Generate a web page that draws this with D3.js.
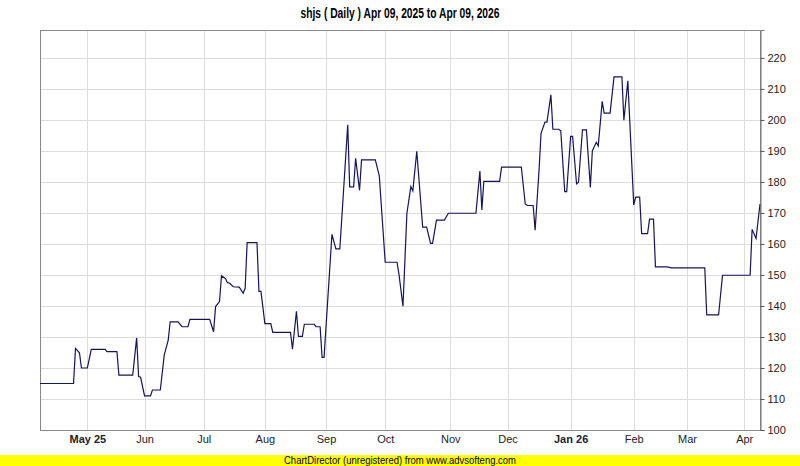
<!DOCTYPE html>
<html>
<head>
<meta charset="utf-8">
<script src="https://cdn.jsdelivr.net/npm/d3@7"></script>
<style>
  body { margin: 0; background: #fff; }
  text { font-family: "Liberation Sans", Arial, sans-serif; }
</style>
</head>
<body>
<svg id="chart" width="800" height="466"></svg>
<script>
// closing prices (turning points of the line)
var dates = [
  "2025-04-09","2025-04-26","2025-04-27","2025-04-29","2025-04-30","2025-05-03","2025-05-05","2025-05-12",
  "2025-05-13","2025-05-18","2025-05-19","2025-05-26","2025-05-28","2025-05-29","2025-05-30","2025-06-01",
  "2025-06-04","2025-06-05","2025-06-09","2025-06-11","2025-06-13","2025-06-14","2025-06-18","2025-06-20",
  "2025-06-23","2025-06-24","2025-07-04","2025-07-06","2025-07-07","2025-07-09","2025-07-10","2025-07-12",
  "2025-07-13","2025-07-14","2025-07-16","2025-07-19","2025-07-21","2025-07-22","2025-07-23","2025-07-28",
  "2025-07-29","2025-07-30","2025-08-01","2025-08-04","2025-08-05","2025-08-14","2025-08-15","2025-08-17",
  "2025-08-18","2025-08-20","2025-08-21","2025-08-26","2025-08-27","2025-08-29","2025-08-30","2025-08-31",
  "2025-09-04","2025-09-06","2025-09-08","2025-09-12","2025-09-13","2025-09-15","2025-09-16","2025-09-18",
  "2025-09-19","2025-09-26","2025-09-28","2025-10-01","2025-10-07","2025-10-08","2025-10-10","2025-10-12",
  "2025-10-14","2025-10-15","2025-10-17","2025-10-20","2025-10-22","2025-10-24","2025-10-25","2025-10-27",
  "2025-10-31","2025-11-02","2025-11-16","2025-11-18","2025-11-19","2025-11-20","2025-11-28","2025-11-29",
  "2025-12-09","2025-12-11","2025-12-12","2025-12-15","2025-12-16","2025-12-18","2025-12-19","2025-12-21",
  "2025-12-22","2025-12-24","2025-12-25","2025-12-28","2025-12-29","2025-12-31","2026-01-01","2026-01-03",
  "2026-01-04","2026-01-06","2026-01-07","2026-01-09","2026-01-11","2026-01-13","2026-01-14","2026-01-16",
  "2026-01-17","2026-01-19","2026-01-20","2026-01-23","2026-01-25","2026-01-29","2026-01-30","2026-02-01",
  "2026-02-04","2026-02-05","2026-02-07","2026-02-08","2026-02-11","2026-02-12","2026-02-14","2026-02-15",
  "2026-02-21","2026-02-23","2026-03-12","2026-03-13","2026-03-19","2026-03-21","2026-04-04","2026-04-05",
  "2026-04-07","2026-04-09"
];
var closes = [
  115, 115, 126.3, 124.9, 120, 120, 126, 126,
  125.3, 125.3, 117.7, 117.7, 129.7, 117.2, 117, 111,
  111, 112.9, 112.9, 124.2, 129, 134.9, 134.9, 133.3,
  133.3, 135.7, 135.7, 131.7, 139.8, 141.4, 149.7, 148.9,
  147.5, 147.4, 146.2, 146.1, 144.1, 145.7, 160.4, 160.4,
  144.7, 144.7, 134.3, 134.3, 131.5, 131.5, 126.1, 138.3,
  130.2, 130.2, 134.1, 134.1, 133.3, 133.3, 123.4, 123.4,
  163.1, 158.4, 158.4, 198.4, 178.4, 178.4, 187.6, 177.3,
  187.1, 187.1, 182, 154.1, 154.1, 150.1, 139.9, 169.9,
  178.5, 177.1, 189.9, 165.4, 165.4, 160.2, 160.2, 167.7,
  167.7, 169.9, 169.9, 183.5, 171, 180.2, 180.2, 184.8,
  184.8, 172.9, 172.4, 172.4, 164.4, 183.9, 195.7, 199.3,
  199.3, 208.1, 197, 197, 196.5, 176.9, 176.9, 194.7,
  194.7, 179.4, 179.9, 196.8, 196.8, 178.2, 190, 192.8,
  191.6, 206, 202.2, 202.2, 213.9, 213.9, 199.9, 212.6,
  172.6, 175.1, 175.1, 163.3, 163.3, 168, 168, 152.6,
  152.6, 152.3, 152.3, 137.1, 137.1, 149.9, 149.9, 164.7,
  161.8, 172.9
];

var monthTickDates = ["2025-05-03","2025-06-01","2025-07-01","2025-08-01","2025-09-01","2025-10-01",
                      "2025-11-03","2025-12-02","2026-01-03","2026-02-04","2026-03-03","2026-04-01"];
var monthTickLabels = ["May 25","Jun","Jul","Aug","Sep","Oct","Nov","Dec","Jan 26","Feb","Mar","Apr"];
var priceTicks = [100,110,120,130,140,150,160,170,180,190,200,210,220];

function drawChart() {
  var parse = d3.timeParse("%Y-%m-%d");
  var data = dates.map(function(d, i) { return { date: parse(d), close: closes[i] }; });

  var svg = d3.select("#chart"),
      plotLeft = 40, plotRight = 760, plotTop = 30, plotBottom = 430;

  var x = d3.scaleTime()
      .domain([parse("2025-04-09"), parse("2026-04-09")])
      .range([plotLeft, plotRight]);
  var y = d3.scaleLinear()
      .domain([100, 229])
      .range([plotBottom, plotTop]);

  // title
  svg.append("text")
      .attr("x", 400).attr("y", 18)
      .attr("text-anchor", "middle")
      .attr("font-size", 15).attr("font-weight", "bold")
      .attr("textLength", 199).attr("lengthAdjust", "spacingAndGlyphs")
      .text("shjs ( Daily ) Apr 09, 2025 to Apr 09, 2026");

  svg.append("rect")
      .attr("x", plotLeft).attr("y", plotTop)
      .attr("width", plotRight - plotLeft).attr("height", plotBottom - plotTop)
      .attr("fill", "#fff");

  // grid
  var grid = svg.append("g").attr("shape-rendering", "crispEdges");
  grid.selectAll("line.h")
      .data(priceTicks)
    .enter().append("line")
      .attr("class", "h")
      .attr("x1", plotLeft).attr("x2", plotRight)
      .attr("y1", function(d) { return Math.round(y(d)) + 0.5; })
      .attr("y2", function(d) { return Math.round(y(d)) + 0.5; })
      .attr("stroke", "#dcdcdc");
  grid.selectAll("line.v")
      .data(monthTickDates)
    .enter().append("line")
      .attr("class", "v")
      .attr("x1", function(d) { return Math.round(x(parse(d))) + 0.5; })
      .attr("x2", function(d) { return Math.round(x(parse(d))) + 0.5; })
      .attr("y1", plotTop).attr("y2", plotBottom)
      .attr("stroke", "#dcdcdc");

  // frame
  svg.append("rect")
      .attr("x", plotLeft + 0.5).attr("y", plotTop + 0.5)
      .attr("width", plotRight - plotLeft).attr("height", plotBottom - plotTop)
      .attr("fill", "none").attr("stroke", "#888")
      .attr("shape-rendering", "crispEdges");

  // price line
  var line = d3.line()
      .x(function(d) { return x(d.date); })
      .y(function(d) { return y(d.close); });

  svg.append("path")
      .datum(data)
      .attr("d", line)
      .attr("fill", "none")
      .attr("stroke", "#14145a")
      .attr("stroke-width", 1.2);

  // right price axis
  var yAxis = svg.append("g")
      .attr("transform", "translate(" + (plotRight + 0.5) + ",0)")
      .call(d3.axisRight(y).tickValues(priceTicks).tickSize(4).tickPadding(3));
  yAxis.select(".domain").attr("stroke", "#777");
  yAxis.selectAll(".tick line").attr("stroke", "#555");
  yAxis.selectAll("text")
      .attr("font-size", 11).attr("fill", "#222")
      .style("font-family", "'Liberation Sans', Arial, sans-serif");

  // month axis
  var xAxis = svg.append("g")
      .attr("transform", "translate(0," + plotBottom + ")")
      .call(d3.axisBottom(x)
        .tickValues(monthTickDates.map(parse))
        .tickFormat(function(d, i) { return monthTickLabels[i]; })
        .tickSize(0).tickPadding(5));
  xAxis.select(".domain").remove();
  xAxis.selectAll("text")
      .attr("font-size", 11).attr("fill", "#222")
      .attr("font-weight", function(d, i) { return monthTickLabels[i].indexOf(" ") > 0 ? "bold" : "normal"; })
      .style("font-family", "'Liberation Sans', Arial, sans-serif");

  // footer
  svg.append("rect")
      .attr("x", 0).attr("y", 455)
      .attr("width", 800).attr("height", 11)
      .attr("fill", "#ffff00");
  svg.append("text")
      .attr("x", 400).attr("y", 464)
      .attr("text-anchor", "middle")
      .attr("font-size", 10)
      .attr("textLength", 232).attr("lengthAdjust", "spacingAndGlyphs")
      .text("ChartDirector (unregistered) from www.advsofteng.com");
}

drawChart();
</script>
</body>
</html>
